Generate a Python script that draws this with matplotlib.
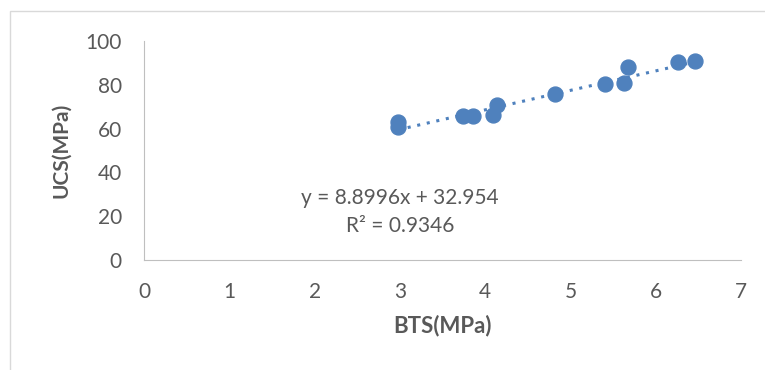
import matplotlib.pyplot as plt
from matplotlib.patches import Rectangle

# BTS vs UCS data
bts = [2.98, 2.98, 3.74, 3.86, 4.09, 4.14, 4.82, 5.40, 5.63, 5.67, 6.26, 6.46]
ucs = [63.0, 60.7, 65.8, 65.8, 66.2, 70.8, 76.0, 80.4, 80.8, 88.1, 90.4, 90.9]
slope = 8.8996
intercept = 32.954
r2 = 0.9346

blue = "#4F81BD"
grey_text = "#595959"
plt.rcParams["font.family"] = ["Lato", "DejaVu Sans"]

fig = plt.figure(figsize=(7.65, 3.70), dpi=100)
fig.patches.append(Rectangle((10 / 765, -0.1), 1.0, 1.1 - 11 / 370, transform=fig.transFigure,
                             fill=False, edgecolor="#D9D9D9", linewidth=1))
ax = fig.add_axes([144 / 765, 1 - 260 / 370, (741 - 144) / 765, (260 - 41) / 370])

ax.scatter(bts, ucs, s=115, color=blue, zorder=3)
x_fit = [min(bts), max(bts)]
ax.plot(x_fit, [slope * x + intercept for x in x_fit], color=blue, linestyle=(0, (1, 2.2)),
        linewidth=2.2, zorder=2)

ax.text(3.0, 21.8, "y = {}x + {}\nR² = {}".format(slope, intercept, r2), ha="center", va="center",
        fontsize=15, color=grey_text, linespacing=1.5)

ax.set_xlim(0, 7)
ax.set_ylim(0, 100)
ax.set_xticks(range(0, 8))
ax.set_yticks(range(0, 101, 20))
ax.tick_params(length=0, labelsize=15, colors=grey_text)
ax.tick_params(axis="x", pad=16)
ax.tick_params(axis="y", pad=16)
for side in ["top", "right"]:
    ax.spines[side].set_visible(False)
for side in ["left", "bottom"]:
    ax.spines[side].set_color("#BFBFBF")
ax.set_xlabel("BTS(MPa)", fontsize=16, fontweight="bold", color=grey_text, labelpad=9)
ax.set_ylabel("UCS(MPa)", fontsize=15, fontweight="bold", color=grey_text, labelpad=10)

plt.savefig("out.png", dpi=100)
